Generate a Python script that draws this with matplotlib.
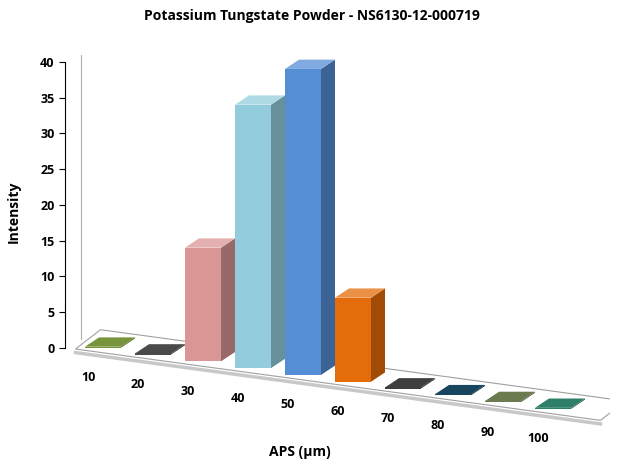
import matplotlib
matplotlib.use("Agg")
import matplotlib.pyplot as plt
from matplotlib.patches import Polygon
import matplotlib.colors as mcolors

sizes = [10, 20, 30, 40, 50, 60, 70, 80, 90, 100]
intensity = [0, 0, 14, 34, 39, 7, 0, 0, 0, 0]
colors = ["#77933C", "#4A4A4A", "#D99694", "#93CDDD", "#558ED5",
          "#E46C0A", "#3F3F3F", "#17465E", "#6B7B4F", "#2E7F6A"]

plt.rcParams["font.family"] = ["Open Sans", "DejaVu Sans"]

fig = plt.figure(figsize=(6.24, 4.71), dpi=100)
ax = fig.add_axes([65 / 624, 11 / 471, 545 / 624, 405 / 471])
ax.set_xlim(-0.76, 10.14)
ax.set_ylim(-15.7, 40.95)

w, dx, dy, drift = 0.72, 0.28, 1.3, 0.95


def shade(c, f):
    r, g, b = mcolors.to_rgb(c)
    return (r * f, g * f, b * f)


# floor
fx0, fx1 = -0.55, 9.95
floor = Polygon([(fx0, -drift * fx0 - 0.7), (fx1, -drift * fx1 - 0.7),
                 (fx1 + 0.5, -drift * fx1 + 2.0), (fx0 + 0.5, -drift * fx0 + 2.0)],
                closed=True, facecolor="white", edgecolor="#A0A0A0", lw=0.8, zorder=1)
ax.add_patch(floor)
ax.plot([fx0, fx1], [-drift * fx0 - 1.2, -drift * fx1 - 1.2], color="#C8C8C8", lw=2.5, zorder=0.5)

for i, (v, c) in enumerate(zip(intensity, colors)):
    x0 = i - w / 2
    b = -drift * i
    top = max(v, b + 0.15) if v > 0 else b + 0.15
    # side face
    ax.add_patch(Polygon([(x0 + w, b), (x0 + w + dx, b + dy), (x0 + w + dx, top + dy), (x0 + w, top)],
                         closed=True, facecolor=shade(c, 0.7), edgecolor="none", zorder=2 + i))
    # top face
    ax.add_patch(Polygon([(x0, top), (x0 + w, top), (x0 + w + dx, top + dy), (x0 + dx, top + dy)],
                         closed=True, facecolor=shade(c, 1.0) if v == 0 else
                         tuple(min(1, 0.75 * ch + 0.25) for ch in mcolors.to_rgb(c)),
                         edgecolor="none", zorder=2 + i))
    # front face
    ax.add_patch(Polygon([(x0, b), (x0 + w, b), (x0 + w, top), (x0, top)],
                         closed=True, facecolor=c, edgecolor="none", zorder=2 + i))
    ax.text(i - 0.3, b - 4.2, str(sizes[i]), ha="center", va="center",
            fontsize=9, fontweight="bold")

# back wall line
ax.plot([-0.45, -0.45], [1.2, 41], color="#B0B0B0", lw=0.8)

for s in ["top", "right", "bottom"]:
    ax.spines[s].set_visible(False)
ax.spines["left"].set_bounds(0, 40)
ax.set_xticks([])
ax.set_yticks(range(0, 41, 5))
ax.tick_params(axis="y", labelsize=9, length=4)
for t in ax.get_yticklabels():
    t.set_fontweight("bold")

fig.text(0.5, 0.965, "Potassium Tungstate Powder - NS6130-12-000719",
         ha="center", va="center", fontsize=10, fontweight="bold")
fig.text(0.48, 0.04, "APS (\u00b5m)", ha="center", va="center", fontsize=10, fontweight="bold")
fig.text(0.022, 0.55, "Intensity", ha="center", va="center", rotation=90,
         fontsize=10, fontweight="bold")

fig.savefig("out.png", dpi=100)
